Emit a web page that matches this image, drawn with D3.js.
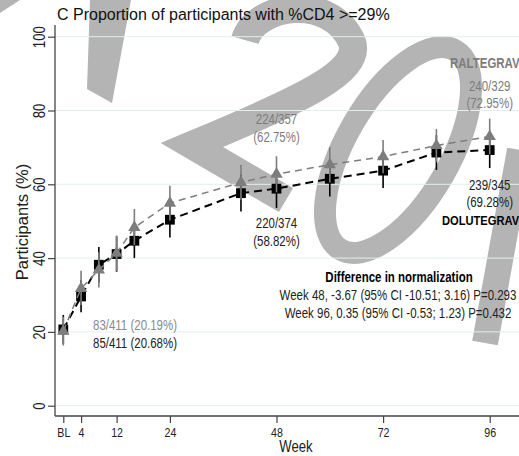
<!DOCTYPE html>
<html>
<head>
<meta charset="utf-8">
<script src="https://cdn.jsdelivr.net/npm/d3@7"></script>
<style>
  body { margin: 0; background: #fff; }
  svg { display: block; }
</style>
</head>
<body>
<svg id="chart"></svg>
<script>
// Data
const weeks = [0, 4, 8, 12, 16, 24, 40, 48, 60, 72, 84, 96];
const ralPct = [20.19, 31.8, 36.8, 41.3, 48.3, 54.9, 60.5, 62.75, 65.3, 67.5, 70.5, 72.95];
const ralLo = [16.3, 27.3, 32.0, 36.5, 43.5, 50.2, 55.8, 57.8, 60.5, 63.0, 66.0, 68.1];
const ralHi = [24.1, 36.6, 41.6, 46.1, 53.3, 59.6, 65.2, 67.6, 70.1, 72.0, 75.0, 77.8];
const dolPct = [20.68, 29.6, 38.2, 41.1, 44.7, 50.4, 57.6, 58.82, 61.5, 63.7, 68.6, 69.28];
const dolLo = [16.8, 25.3, 33.4, 36.3, 40.0, 45.6, 52.6, 53.6, 56.7, 59.0, 63.9, 64.4];
const dolHi = [24.6, 34.0, 43.0, 45.9, 49.5, 55.2, 62.6, 64.0, 66.3, 68.5, 73.3, 74.2];
const xTicks = [0, 4, 12, 24, 48, 72, 96];
const xTickLabels = ["BL", "4", "12", "24", "48", "72", "96"];
const yTicks = [0, 20, 40, 60, 80, 100];

const W = 519, H = 456;
const font = "'Liberation Sans', Arial, sans-serif";
const squeeze = 0.82; // the figure uses a narrow face, so text is squeezed sideways
const grayCol = "#7d7d7d";

const svg = d3.select("#chart").attr("width", W).attr("height", H);

// watermark shapes sitting behind the chart
const wm = svg.append("g").attr("fill", "#b4b4b4").attr("stroke", "#b4b4b4");
wm.append("path").attr("stroke", "none").attr("d", "M90,0L131,0L112,103L87,89Z");
wm.append("path").attr("stroke", "none").attr("d", "M0,0L20,0L0,13Z");
wm.append("path").attr("fill", "none").attr("stroke-width", 28)
  .attr("d", "M245,40C255,5 330,-8 352,42C362,72 300,100 192,145L286,200");
wm.append("ellipse").attr("fill", "none").attr("stroke-width", 22)
  .attr("cx", 0).attr("cy", 0).attr("rx", 115).attr("ry", 52)
  .attr("transform", "translate(398,150) rotate(-60)");
wm.append("path").attr("fill", "none").attr("stroke-width", 26).attr("d", "M520,150L485,343");

const x = d3.scaleLinear().domain([0, 96]).range([63.3, 489.7]);
const y = d3.scaleLinear().domain([0, 100]).range([405.7, 36.7]);

// gridlines
svg.append("g").selectAll("line").data(yTicks).join("line")
  .attr("x1", 55).attr("x2", W)
  .attr("y1", d => y(d)).attr("y2", d => y(d))
  .attr("stroke", "#e4eef0").attr("stroke-width", 1);

// axes
const xAxis = svg.append("g").attr("transform", "translate(0,416)")
  .call(d3.axisBottom(x).tickValues(xTicks).tickFormat((d, i) => xTickLabels[i]).tickSize(7).tickPadding(5));
xAxis.select(".domain").remove();
xAxis.selectAll("line").attr("stroke", "#444").attr("stroke-width", 1.2);
xAxis.selectAll("text")
  .attr("transform", `scale(${squeeze},1)`)
  .attr("font-family", font).attr("font-size", 13).attr("fill", "#222");

const yAxis = svg.append("g").attr("transform", "translate(55,0)")
  .call(d3.axisLeft(y).tickValues(yTicks).tickSize(7));
yAxis.select(".domain").remove();
yAxis.selectAll("line").attr("stroke", "#444").attr("stroke-width", 1.2);
yAxis.selectAll("text")
  .attr("transform", `rotate(-90) scale(${squeeze},1)`)
  .attr("x", 0).attr("y", -10).attr("dy", 0)
  .attr("text-anchor", "middle")
  .attr("font-family", font).attr("font-size", 16).attr("fill", "#222");

svg.append("line").attr("x1", 55).attr("x2", W).attr("y1", 416).attr("y2", 416)
  .attr("stroke", "#444").attr("stroke-width", 1.3);
svg.append("line").attr("x1", 55).attr("x2", 55).attr("y1", 25).attr("y2", 416)
  .attr("stroke", "#444").attr("stroke-width", 1.3);

// series
function drawSeries(pct, lo, hi, color, lineW, dash, marker) {
  const rows = weeks.map((w, i) => ({ w, v: pct[i], lo: lo[i], hi: hi[i] }));
  const g = svg.append("g");
  g.append("path").datum(rows)
    .attr("d", d3.line().x(d => x(d.w)).y(d => y(d.v)))
    .attr("fill", "none").attr("stroke", color)
    .attr("stroke-width", lineW).attr("stroke-dasharray", dash);
  g.selectAll(".ci").data(rows).join("line")
    .attr("x1", d => x(d.w)).attr("x2", d => x(d.w))
    .attr("y1", d => y(d.lo)).attr("y2", d => y(d.hi))
    .attr("stroke", color).attr("stroke-width", 1.6);
  g.selectAll(".mk").data(rows).join("path")
    .attr("transform", d => `translate(${x(d.w)},${y(d.v)})`)
    .attr("d", marker)
    .attr("fill", color);
}
drawSeries(dolPct, dolLo, dolHi, "#000", 2, "8,5", d3.symbol(d3.symbolSquare, 96)());
drawSeries(ralPct, ralLo, ralHi, grayCol, 1.5, "7,5", d3.symbol(d3.symbolTriangle, 66)());

// texts
function txt(str, tx, ty, opts = {}) {
  const sx = opts.squeeze === false ? 1 : squeeze;
  return svg.append("text")
    .attr("transform", `translate(${tx},${ty}) scale(${sx},1)`)
    .text(str)
    .attr("font-family", font)
    .attr("font-size", opts.size || 14)
    .attr("font-weight", opts.weight || "normal")
    .attr("text-anchor", opts.anchor || "start")
    .attr("fill", opts.fill || "#222");
}

txt("C Proportion of participants with %CD4 >=29%", 57, 20, { size: 16, fill: "#111", squeeze: false });
svg.append("text").attr("transform", "translate(28,222) rotate(-90)")
  .attr("text-anchor", "middle").attr("font-family", font).attr("font-size", 16.5)
  .attr("fill", "#222").text("Participants (%)");
txt("Week", 296, 452, { size: 16, anchor: "middle" });

txt("224/357", x(48), 124, { anchor: "middle", fill: grayCol });
txt("(62.75%)", x(48), 142, { anchor: "middle", fill: grayCol });
txt("220/374", x(48), 228, { anchor: "middle" });
txt("(58.82%)", x(48), 246, { anchor: "middle" });
txt("240/329", x(96), 91, { anchor: "middle", fill: grayCol });
txt("(72.95%)", x(96), 108, { anchor: "middle", fill: grayCol });
txt("239/345", x(96), 190, { anchor: "middle" });
txt("(69.28%)", x(96), 207, { anchor: "middle" });
txt("RALTEGRAV", 450, 68, { weight: "bold", fill: grayCol });
txt("DOLUTEGRAV", 442, 225, { weight: "bold", fill: "#000", size: 13.6 });
txt("83/411 (20.19%)", 93, 330, { fill: "#8a8a8a" });
txt("85/411 (20.68%)", 93, 348);

txt("Difference in normalization", 399, 282, { anchor: "middle", weight: "bold", fill: "#000" });
txt("Week 48, -3.67 (95% CI -10.51; 3.16) P=0.293", 398, 300, { anchor: "middle" });
txt("Week 96, 0.35 (95% CI -0.53; 1.23) P=0.432", 398, 318, { anchor: "middle" });
</script>
</body>
</html>
